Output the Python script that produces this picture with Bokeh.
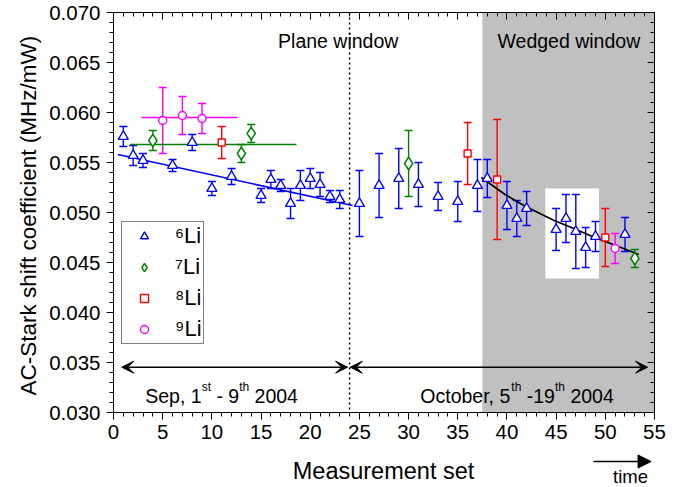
from bokeh.plotting import figure
from bokeh.layouts import column
from bokeh.models import (Range1d, LinearAxis, SingleIntervalTicker, PrintfTickFormatter,
                          CustomJSTickFormatter, Whisker, ColumnDataSource, TeeHead,
                          BoxAnnotation, Span, Arrow, VeeHead, NormalHead, Label, Legend, LegendItem)
from bokeh.embed import file_html
from bokeh.resources import INLINE

# ---------------- data ----------------
x6 = [1, 2, 3, 6, 8, 10, 12, 15, 16, 17, 18, 19, 20, 21, 22, 23,
      25, 27, 29, 31, 33, 35, 37, 38, 40, 41, 42, 45, 46, 47, 48, 49, 52]
y6 = [0.0576, 0.0557, 0.0552, 0.0547, 0.0570, 0.0524, 0.0536, 0.0517, 0.0533, 0.0527,
      0.0509, 0.0527, 0.0534, 0.0528, 0.0516, 0.0513,
      0.0509, 0.0527, 0.0534, 0.0528, 0.0516, 0.0511, 0.0527, 0.0534, 0.0507, 0.0494,
      0.0504, 0.0483, 0.0494, 0.0481, 0.0465, 0.0476, 0.0478]
e6 = [0.0010, 0.0010, 0.0007, 0.0006, 0.0008, 0.0007, 0.0008, 0.0007, 0.0009, 0.0006,
      0.0015, 0.0015, 0.0010, 0.0012, 0.0006, 0.0009,
      0.0033, 0.0032, 0.0030, 0.0022, 0.0014, 0.0020, 0.0026, 0.0019, 0.0024, 0.0018,
      0.0017, 0.0021, 0.0024, 0.0037, 0.0020, 0.0015, 0.0017]

x7 = [4, 13, 14, 30, 53]
y7 = [0.0572, 0.0559, 0.0579, 0.0549, 0.0454]
e7 = [0.0010, 0.0009, 0.0009, 0.0033, 0.0009]

x8 = [11, 36, 39, 50]
y8 = [0.0570, 0.0559, 0.0533, 0.0475]
e8 = [0.0016, 0.0031, 0.0060, 0.0029]

x9 = [5, 7, 9, 51]
y9 = [0.0592, 0.0597, 0.0594, 0.0464]
e9 = [0.0033, 0.0019, 0.0015, 0.0015]

fit6_x = [0.45, 24.3]
fit6_y = [0.0558, 0.0507]
fit7_x = [1.7, 18.6]
fit7_y = [0.0568, 0.0568]
fit9_x = [2.85, 12.6]
fit9_y = [0.0595, 0.0595]
fitw_x = [37.4, 39.8, 41.9, 44.8, 46.8, 48.9, 50.8, 53.4]
fitw_y = [0.0535, 0.0518, 0.0506, 0.0492, 0.0484, 0.0475, 0.0468, 0.0458]

legend_labels = ["\u2076Li", "\u2077Li", "\u2078Li", "\u2079Li"]
x_label = "Measurement set"
y_label = "AC-Stark shift coefficient  (MHz/mW)"

# ---------------- main figure ----------------
FONT = "Liberation Sans"
BLUE, GREEN, RED, MAGENTA = "#0000ff", "#008000", "#ff0000", "#ff00ff"

p = figure(width=689, height=450, output_backend="svg", toolbar_location=None,
           x_range=Range1d(0, 55), y_range=Range1d(0.030, 0.070),
           min_border_left=113, min_border_right=35, min_border_top=12, min_border_bottom=38)
p.xgrid.visible = False
p.ygrid.visible = False
p.outline_line_color = "black"
p.outline_line_width = 1
p.background_fill_color = "white"
p.border_fill_color = "white"

xt = SingleIntervalTicker(interval=5, num_minor_ticks=5)
yt = SingleIntervalTicker(interval=0.005, num_minor_ticks=5)

for ax in p.xaxis:
    ax.ticker = xt
for ax in p.yaxis:
    ax.ticker = yt
    ax.formatter = PrintfTickFormatter(format="%.3f")

for ax in list(p.xaxis) + list(p.yaxis):
    ax.major_tick_out = 7
    ax.major_tick_in = 0
    ax.minor_tick_out = 4
    ax.minor_tick_in = 0
    ax.axis_line_color = "black"
    ax.major_label_text_font = FONT
    ax.major_label_text_font_size = "20.5px"
    ax.major_label_text_color = "black"
    ax.axis_label_text_font = FONT
    ax.axis_label_text_font_size = "22.5px"
    ax.axis_label_text_font_style = "normal"
    ax.axis_label_text_color = "black"

p.xaxis.major_label_standoff = 5
p.yaxis.axis_label = y_label
p.yaxis.major_label_standoff = 6
p.yaxis.axis_label_standoff = 5

blank = CustomJSTickFormatter(code="return ''")
top_ax = LinearAxis(ticker=xt, formatter=blank, major_label_text_font_size="6px",
                    major_tick_in=7, major_tick_out=0, minor_tick_in=4, minor_tick_out=0,
                    major_label_standoff=0, axis_line_color="black")
right_ax = LinearAxis(ticker=yt, formatter=blank, major_label_text_font_size="6px",
                      major_tick_in=7, major_tick_out=0, minor_tick_in=4, minor_tick_out=0,
                      major_label_standoff=0, axis_line_color="black")
p.add_layout(top_ax, "above")
p.add_layout(right_ax, "right")

# shaded regions
p.add_layout(BoxAnnotation(left=37.5, fill_color="#c0c0c0", fill_alpha=1.0, line_alpha=0, level="underlay"))
p.add_layout(BoxAnnotation(left=43.9, right=49.35, bottom=0.0434, top=0.0524,
                           fill_color="white", fill_alpha=1.0, line_alpha=0, level="underlay"))

# error bars
def add_err(xs, ys, es, color):
    src = ColumnDataSource(dict(x=xs, upper=[a + b for a, b in zip(ys, es)],
                                lower=[a - b for a, b in zip(ys, es)]))
    w = Whisker(base="x", upper="upper", lower="lower", source=src,
                line_color=color, line_width=1.4, level="underlay",
                upper_head=TeeHead(size=8, line_color=color, line_width=1.4),
                lower_head=TeeHead(size=8, line_color=color, line_width=1.4))
    p.add_layout(w)

add_err(x6, y6, e6, BLUE)
add_err(x7, y7, e7, GREEN)
add_err(x8, y8, e8, RED)
add_err(x9, y9, e9, MAGENTA)

# fit lines
p.line(fit6_x, fit6_y, line_color=BLUE, line_width=1.6)
p.line(fit7_x, fit7_y, line_color=GREEN, line_width=1.6)
p.line(fit9_x, fit9_y, line_color=MAGENTA, line_width=1.6)
p.line(fitw_x, fitw_y, line_color="black", line_width=1.6)

# markers
r6 = p.scatter(x6, y6, marker="triangle", size=10, line_color=BLUE, fill_color="white", line_width=1.4)
r7 = p.scatter(x7, y7, marker="diamond", size=12.5, line_color=GREEN, fill_color="white", line_width=1.4)
r8 = p.scatter(x8, y8, marker="square", size=7, line_color=RED, fill_color="white", line_width=1.4)
r9 = p.scatter(x9, y9, marker="circle", size=8, line_color=MAGENTA, fill_color="white", line_width=1.4)

# legend
legend = Legend(items=[LegendItem(label=legend_labels[i], renderers=[r])
                       for i, r in enumerate([r6, r7, r8, r9])],
                location=(8, 68), orientation="vertical")
legend.label_text_font = FONT
legend.label_text_font_size = "22px"
legend.label_text_color = "black"
legend.border_line_color = "black"
legend.border_line_width = 1
legend.background_fill_color = "white"
legend.background_fill_alpha = 1.0
legend.padding = 1
legend.spacing = 5
legend.margin = 0
legend.glyph_width = 42
legend.glyph_height = 20
legend.label_height = 20
legend.label_standoff = 10
p.add_layout(legend)

# window divider
p.add_layout(Span(location=24, dimension="height", line_color="black", line_width=1.5, line_dash="2 3"))

# date arrows
p.add_layout(Arrow(x_start=0.84, y_start=0.03453, x_end=23.8, y_end=0.03453, line_width=1.5,
                   start=VeeHead(size=12, fill_color="black", line_color="black"),
                   end=VeeHead(size=12, fill_color="black", line_color="black")))
p.add_layout(Arrow(x_start=24.07, y_start=0.03453, x_end=54.3, y_end=0.03453, line_width=1.5,
                   start=VeeHead(size=12, fill_color="black", line_color="black"),
                   end=VeeHead(size=12, fill_color="black", line_color="black")))

# window titles
p.add_layout(Label(x=16.73, y=0.0672, text="Plane window", text_baseline="middle",
                   text_font=FONT, text_font_size="19.5px", text_color="black"))
p.add_layout(Label(x=39.04, y=0.0672, text="Wedged window", text_baseline="middle",
                   text_font=FONT, text_font_size="19.5px", text_color="black"))

# rich (superscript) date texts
W = {' ': 278, ',': 278, '-': 333, '.': 278, 'S': 667, 'e': 556, 'p': 556, 's': 500, 't': 278,
     'h': 556, 'O': 778, 'c': 500, 'o': 556, 'b': 556, 'r': 333}
def tw(s, fs):
    return sum(W.get(ch, 556) for ch in s) * fs / 1000.0

def add_rich(x, y, pieces, fs_main=19.5, fs_sup=12.0, raise_px=9):
    off = 0.0
    for txt, sup in pieces:
        fs = fs_sup if sup else fs_main
        stripped = txt.strip()
        lead = txt[:len(txt) - len(txt.lstrip())]
        trail = txt[len(txt.rstrip()):]
        off += tw(lead, fs)
        p.add_layout(Label(x=x, y=y, x_offset=off, y_offset=(raise_px if sup else 0), text=stripped,
                           text_baseline="middle", text_font=FONT,
                           text_font_size=f"{fs}px", text_color="black"))
        off += tw(stripped, fs) + tw(trail, fs)

add_rich(3.23, 0.0317, [("Sep, 1", False), ("st", True), (" - 9", False), ("th", True), (" 2004", False)])
add_rich(31.19, 0.0317, [("October, 5", False), ("th", True), (" -19", False), ("th", True), (" 2004", False)])

# ---------------- strip below: axis title and time arrow ----------------
q = figure(width=689, height=37, output_backend="svg", toolbar_location=None,
           x_range=p.x_range, y_range=Range1d(0, 37),
           x_axis_location=None, y_axis_location=None,
           min_border_left=113, min_border_right=35, min_border_top=0, min_border_bottom=0)
q.xgrid.visible = False
q.ygrid.visible = False
q.outline_line_color = None
q.background_fill_color = "white"
q.border_fill_color = "white"

q.add_layout(Label(x=27.45, y=17, text=x_label, text_align="center", text_baseline="middle",
                   text_font=FONT, text_font_size="23.5px", text_color="black"))
q.add_layout(Arrow(x_start=48.8, y_start=26, x_end=54.65, y_end=26, line_width=1.5,
                   start=None, end=NormalHead(size=13, fill_color="black", line_color="black")))
q.add_layout(Label(x=52.57, y=11.5, text="time", text_align="center", text_baseline="middle",
                   text_font=FONT, text_font_size="18.5px", text_color="black"))

layout = column(p, q, spacing=0)
open("out.html", "w").write(file_html(layout, INLINE))
